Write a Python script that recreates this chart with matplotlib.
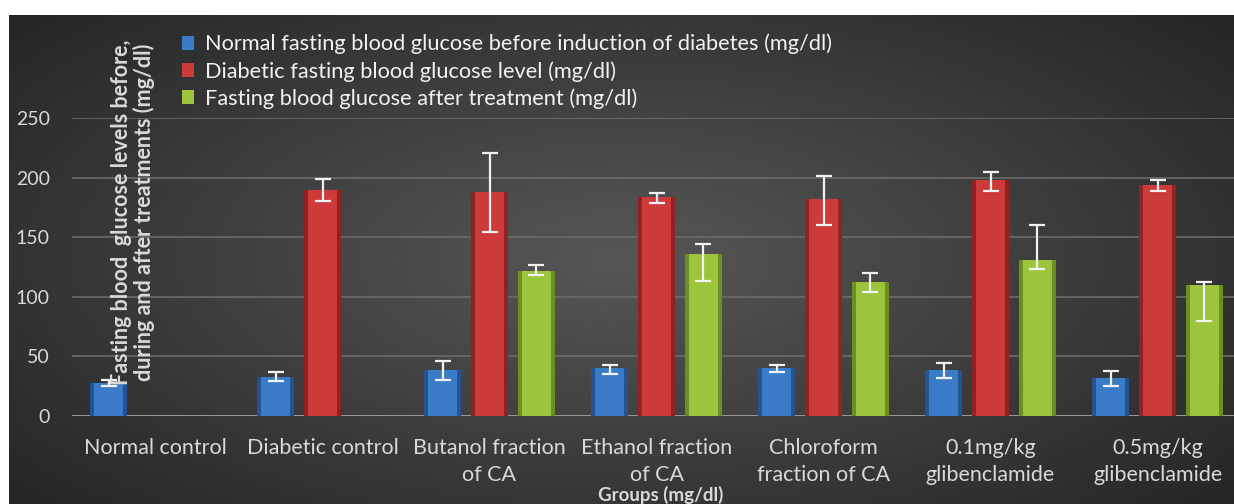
import numpy as np
import matplotlib.pyplot as plt
from matplotlib.patches import Patch

groups = ['Normal control', 'Diabetic control', 'Butanol fraction\nof CA',
          'Ethanol fraction\nof CA', 'Chloroform\nfraction of CA',
          '0.1mg/kg\nglibenclamide', '0.5mg/kg\nglibenclamide']

normal = [28, 33, 39, 40, 40, 39, 32]
normal_lo = [2.5, 4, 9, 5, 3.5, 7.5, 7]
normal_hi = [2.5, 4, 7, 3, 3, 5.5, 6]

diabetic = [np.nan, 190, 188, 184, 182, 198, 194]
diabetic_lo = [0, 10, 34, 5, 22, 9, 5]
diabetic_hi = [0, 8.5, 33, 3, 19, 7, 4]

treated = [np.nan, np.nan, 122, 136, 112, 131, 110]
treated_lo = [0, 0, 3.5, 23, 8, 8, 30]
treated_hi = [0, 0, 4.5, 8, 8, 29, 2]

labels = ['Normal fasting blood glucose before induction of diabetes (mg/dl)',
          'Diabetic fasting blood glucose level (mg/dl)',
          'Fasting blood glucose after treatment (mg/dl)']
colors = ['#3b7cc9', '#cc3a3a', '#9cc43c']
dark = ['#24548f', '#8f2222', '#6c8f22']

W, H = 1234, 504
fig = plt.figure(figsize=(W / 100, H / 100), dpi=100)
fig.patch.set_facecolor('white')
plt.rcParams['font.family'] = ['Lato', 'DejaVu Sans']

# dark gradient backdrop
bg = fig.add_axes([9 / W, 0, 1 - 9 / W, (H - 15) / H])
yy, xx = np.mgrid[-1:1:200j, -1:1:400j]
r = np.sqrt((xx * 0.9) ** 2 + (yy * 0.8) ** 2)
img = 0.34 - 0.16 * np.clip(r, 0, 1.2)
bg.imshow(img, cmap='gray', vmin=0, vmax=1, aspect='auto', extent=[0, 1, 0, 1])
bg.set_axis_off()

ax = fig.add_axes([72 / W, (H - 416) / H, 1169 / W, (416 - 118) / H])
ax.patch.set_alpha(0)
x = np.arange(len(groups))
bw = 0.222
pitch = 0.281
series = [(normal, normal_lo, normal_hi), (diabetic, diabetic_lo, diabetic_hi),
          (treated, treated_lo, treated_hi)]
for i, (vals, lo, hi) in enumerate(series):
    pos = x + (i - 1) * pitch
    ax.bar(pos, vals, bw, color=dark[i], zorder=3)
    ax.bar(pos, vals, bw * 0.8, color=colors[i], zorder=3)
    ax.errorbar(pos, vals, yerr=[lo, hi], fmt='none', ecolor='#f2f2f2',
                elinewidth=1.6, capsize=6, capthick=1.6, zorder=4)

ax.set_xlim(-0.5, len(groups) - 0.5)
ax.set_ylim(0, 250)
ax.set_yticks([0, 50, 100, 150, 200, 250])
ax.yaxis.grid(True, color='#6b6b6b', linewidth=1.2, zorder=0)
ax.axhline(0, color='#a8a8a8', linewidth=1.8, zorder=2)
for s in ax.spines.values():
    s.set_visible(False)
ax.tick_params(length=0, colors='#d9d9d9')
ax.tick_params(axis='y', pad=16, labelsize=14)
ax.tick_params(axis='x', pad=16, labelsize=15.5)
ax.set_xticks(x)
ax.set_xticklabels(groups, linespacing=1.4)

fig.text(133 / W, 1 - 212 / H,
         'Fasting blood  glucose levels before,\nduring and after treatments (mg/dl)',
         rotation=90, ha='center', va='center', color='#d9d9d9',
         fontsize=15.5, fontweight='bold', linespacing=1.05)
fig.text(661 / W, 1 - 495 / H, 'Groups (mg/dl)', ha='center', va='center',
         color='#d9d9d9', fontsize=13.5, fontweight='bold')

handles = [Patch(facecolor=c) for c in colors]
fig.legend(handles, labels, loc='upper left', bbox_to_anchor=(171 / W, 1 - 23 / H),
           frameon=False, fontsize=15.7, labelcolor='#f2f2f2',
           handlelength=0.55, handleheight=0.6, handletextpad=0.5,
           labelspacing=0.3, borderpad=0)

fig.savefig('out.png', dpi=100, facecolor=fig.get_facecolor())
